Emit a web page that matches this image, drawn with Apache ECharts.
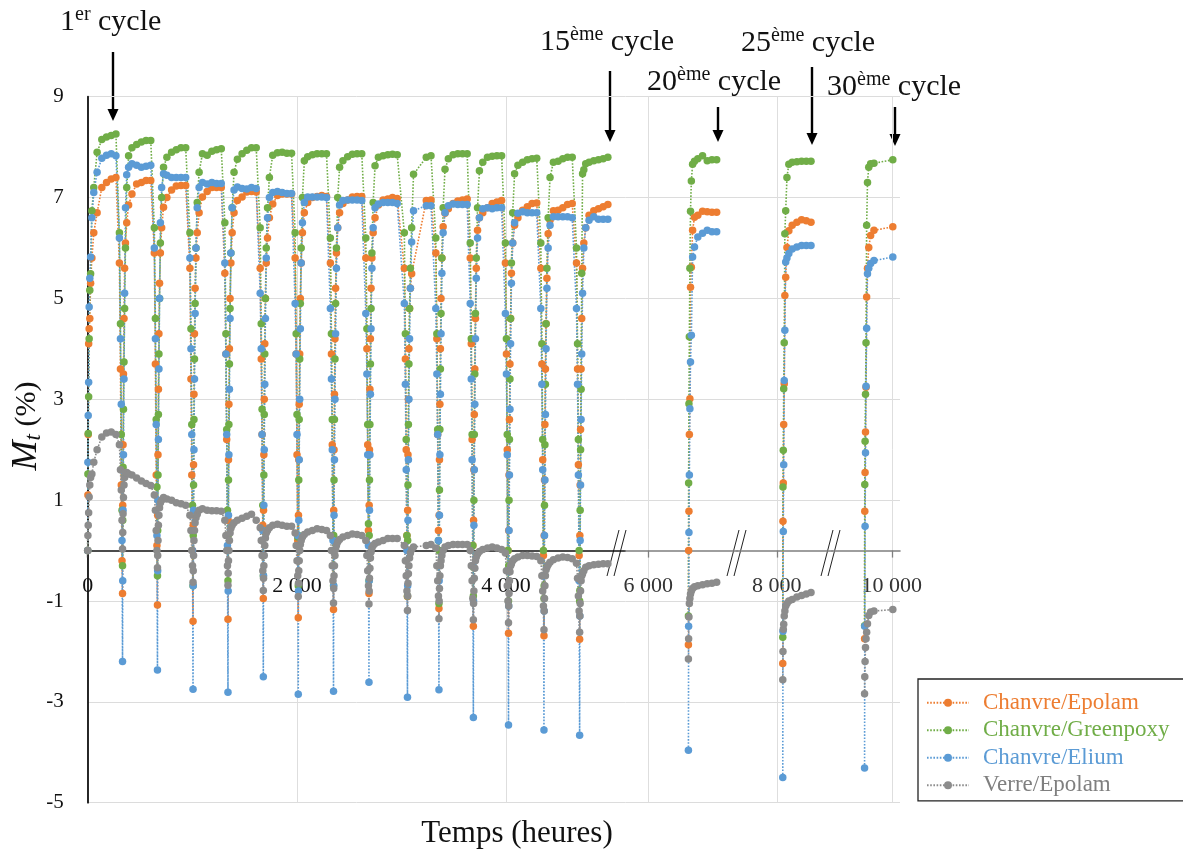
<!DOCTYPE html>
<html><head><meta charset="utf-8">
<script src="https://cdn.jsdelivr.net/npm/echarts@6/dist/echarts.min.js"></script>
<style>html,body{margin:0;padding:0;background:#fff}#chart{width:1183px;height:852px}</style>
</head><body><div id="chart"></div>
<script>
// ---------------- DATA ----------------
const cycleNumbers = [1,2,3,4,5,6,7,8,9,10,11,12,13,14,15,20,25,30];
const cycleTimes   = [0,333,667,1007,1341,1679,2013,2350,2689,3057,3358,3687,4023,4362,4703,6383,8057,9740]; // hours (time of minimum)
const cycleSegment = [0,0,0,0,0,0,0,0,0,0,0,0,0,0,0,1,2,3];  // which broken-axis segment
const dropOffsets  = [-30,-20,-12,-5,0];                    // hours, desorption points then minimum
const riseOffsets  = [2,5,9,14,20,28,40,58,90,135,180,225,270]; // hours, absorption points
const segMin   = [0,5780,7620,9429];
const segMax   = [5140,6848,8528,10079];
const segTicks = [[0,2000,4000],[6000],[8000],[10000]];
const yTicksMin = -5, yTicksMax = 9, yTickStep = 2;

// each row: [d1,d2,d3,d4,min, r1..r13] for one cycle
const chanvreEpolam = [
 [null,null,null,null,0, 1.1,2.3,4.1,4.4,4.6,5.3,5.8,6.3,6.7,7.2,7.3,7.37,7.4],
 [5.7,3.6,1.3,-0.2,-0.85, 0.9,2.1,3.5,4.6,5.6,6.1,6.5,6.85,7.07,7.27,7.3,7.34,7.34],
 [5.9,3.7,1.5,0.1,-1.08, 0.7,1.9,3.2,4.3,5.3,5.9,6.4,6.81,7.0,7.15,7.23,7.24,7.24],
 [5.6,3.4,1.5,0.0,-1.4, 0.5,1.7,3.1,4.3,5.2,5.8,6.3,6.7,7.01,7.12,7.2,7.2,7.2],
 [5.5,3.9,2.2,0.3,-1.36, 0.6,1.8,2.9,4.0,5.0,5.7,6.3,6.7,6.94,7.01,7.11,7.12,7.11],
 [5.6,3.8,2.3,0.5,-0.95, 0.8,1.9,3.0,4.1,5.0,5.7,6.2,6.6,6.87,7.04,7.07,7.07,7.07],
 [5.8,3.9,1.9,0.2,-1.33, 0.7,1.8,2.9,3.9,5.0,5.7,6.3,6.7,6.9,7.0,7.02,7.04,7.02],
 [5.7,3.9,2.1,0.3,-1.17, 0.8,2.0,3.1,4.2,5.2,5.9,6.4,6.7,6.88,6.95,7.01,7.02,7.02],
 [5.8,4.0,2.1,0.4,-0.85, 0.9,2.0,3.2,4.2,5.2,5.8,6.3,6.6,6.85,6.95,6.97,7.0,6.98],
 [5.6,3.8,2.0,0.3,-0.91, 0.8,1.9,3.0,4.0,4.8,5.2,5.49,null,null,null,6.94,6.95,null],
 [5.9,4.2,2.3,0.4,-1.15, 0.7,1.8,2.9,4.0,5.0,5.8,6.42,6.69,6.78,6.88,6.93,6.95,6.97],
 [5.8,4.1,2.2,0.1,-1.5, 0.6,1.6,2.7,3.6,4.6,5.6,6.35,6.6,6.7,6.8,6.88,6.91,6.94],
 [5.7,3.9,2.0,0.0,-1.64, 0.4,1.5,2.6,3.7,4.6,5.5,6.1,6.45,6.6,6.75,6.82,6.88,6.89],
 [5.6,3.7,1.8,-0.1,-1.69, 0.3,1.4,2.5,3.6,4.5,5.4,6.28,6.55,6.74,6.75,6.8,6.86,6.88],
 [5.7,3.6,1.7,-0.1,-1.76, 0.3,1.3,2.4,3.6,4.6,5.6,6.1,6.4,6.65,6.74,6.78,6.82,6.86],
 [null,null,null,null,-1.87, 0.0,0.78,2.3,3.01,5.22,5.62,6.35,6.61,6.65,6.73,6.72,6.71,6.71],
 [null,null,null,null,-2.24, 0.58,1.34,2.5,3.31,5.06,5.42,6.01,6.34,6.45,6.51,6.56,6.54,6.51],
 [null,null,null,null,-1.75, 0.78,1.55,2.35,3.24,5.03,5.6,6.01,6.25,6.35,null,null,null,6.42]
];
const chanvreGreenpoxy = [
 [null,null,null,null,0, 1.52,2.32,3.05,4.2,5.16,5.49,6.74,7.2,7.9,8.15,8.2,8.23,8.26],
 [6.3,4.5,2.3,0.8,-0.3, 0.6,1.65,2.8,3.74,4.8,6.0,7.2,7.83,7.99,8.05,8.1,8.13,8.13],
 [6.4,4.6,2.6,1.26,-0.5, 0.4,1.5,2.7,3.9,5.0,6.1,7.0,7.6,7.8,7.9,7.95,7.99,7.99],
 [6.3,4.4,2.5,0.9,-0.7, 0.3,1.3,2.6,3.8,4.9,6.0,6.9,7.5,7.87,7.84,7.92,7.95,7.97],
 [6.5,4.3,2.4,0.8,-0.6, 0.3,1.4,2.5,3.7,4.8,5.9,6.8,7.5,7.76,7.87,7.94,7.99,7.99],
 [6.4,4.5,2.8,0.9,-0.5, 0.4,1.5,2.7,3.9,5.0,6.0,6.8,7.4,7.84,7.89,7.9,7.88,7.88],
 [6.3,4.3,2.7,0.27,-0.7, 0.3,1.4,2.6,3.8,4.9,6.0,7.0,7.73,7.81,7.85,7.87,7.87,7.87],
 [6.2,4.3,2.6,0.27,-0.7, 0.3,1.4,2.6,3.8,4.9,6.0,7.0,7.6,7.73,7.81,7.86,7.87,7.87],
 [6.2,4.4,2.5,0.53,-0.6, 0.3,1.4,2.5,3.7,4.8,5.9,6.9,7.63,7.8,7.83,7.85,7.86,7.85],
 [6.3,4.3,2.2,0.3,-0.9, 0.2,1.3,2.5,3.7,4.8,5.6,6.4,7.46,null,null,7.8,7.83,null],
 [6.2,4.3,2.4,0.2,-1.05, 0.0,1.2,2.4,3.6,4.7,5.8,6.8,7.56,7.77,7.85,7.87,7.87,7.87],
 [6.1,4.2,2.3,0.1,-0.9, -0.33,1.0,2.3,3.5,4.7,5.8,6.8,7.53,7.7,7.8,7.82,7.83,7.83],
 [6.1,4.2,2.3,0.0,-1.0, -0.3,1.0,2.2,3.4,4.6,5.7,6.7,7.47,7.64,7.7,7.75,7.77,7.78],
 [6.1,4.1,2.2,0.0,-0.95, -0.7,0.9,2.1,3.3,4.5,5.6,6.6,7.4,7.7,7.72,7.77,7.8,7.8],
 [6.0,4.1,2.2,0.0,-1.0, -0.79,0.8,2.0,3.2,5.5,7.47,7.55,7.67,7.7,7.73,7.75,7.77,7.8],
 [null,null,null,null,-1.3, 1.34,2.91,4.24,5.6,6.73,7.33,7.66,7.72,7.77,7.83,7.73,7.75,7.75],
 [null,null,null,null,-1.72, 1.26,1.99,3.21,4.12,6.28,6.74,7.4,7.66,7.7,7.71,7.72,7.72,7.72],
 [null,null,null,null,-1.49, 1.31,2.17,3.1,4.12,6.45,7.3,7.6,7.67,7.68,null,null,null,7.75]
];
const chanvreElium = [
 [null,null,null,null,0, 1.75,2.68,3.34,4.83,5.4,5.82,6.6,7.1,7.5,7.78,7.84,7.87,7.83],
 [6.2,4.2,2.9,0.2,-2.2, -0.6,0.8,1.9,3.4,5.1,6.8,7.45,7.6,7.67,7.64,7.6,7.62,7.64],
 [6.0,4.2,2.5,0.3,-2.37, -0.4,1.0,2.2,3.6,5.0,6.5,7.2,7.47,7.44,7.4,7.4,7.4,7.4],
 [5.8,4.0,2.3,0.0,-2.75, -0.7,0.8,2.0,3.4,4.7,6.0,6.8,7.2,7.3,7.27,7.3,7.28,7.28],
 [5.7,3.9,2.3,0.1,-2.81, -0.8,0.7,1.9,3.2,4.6,5.9,6.8,7.15,7.21,7.18,7.17,7.2,7.18],
 [5.1,4.0,2.3,0.4,-2.5, -0.5,0.9,2.0,3.3,4.6,5.8,6.6,7.0,7.1,7.12,7.1,7.08,7.08],
 [4.9,3.9,2.3,0.3,-2.85, -0.8,0.6,1.8,3.0,4.4,5.7,6.5,6.9,7.01,7.01,7.01,7.01,7.0],
 [4.8,3.4,2.0,0.2,-2.79, -0.7,0.7,1.8,3.0,4.3,5.6,6.4,6.85,6.94,6.95,6.95,6.95,6.94],
 [4.7,3.5,1.9,0.1,-2.61, -0.6,0.8,1.9,3.1,4.4,5.6,6.4,6.8,6.87,6.9,6.9,6.9,6.88],
 [4.9,3.3,1.6,0.0,-2.91, -0.7,0.6,1.8,3.0,4.2,5.2,6.12,6.74,null,null,6.84,6.84,null],
 [4.8,3.5,2.3,0.2,-2.76, -0.6,0.7,1.9,3.1,4.3,5.5,6.3,6.7,6.84,6.87,6.86,6.86,6.86],
 [4.9,3.4,1.8,-0.3,-3.31, -1.0,0.5,1.6,2.9,4.2,5.4,6.2,6.6,6.78,6.8,6.78,6.8,6.8],
 [4.7,3.5,1.9,-0.4,-3.46, -1.1,0.4,1.5,2.8,4.1,5.3,6.1,6.5,6.69,6.72,6.7,6.7,6.7],
 [4.8,3.3,1.6,-0.5,-3.56, -1.2,0.3,1.4,2.7,4.0,5.2,6.0,6.45,6.62,6.62,6.62,6.62,6.6],
 [4.8,3.3,1.5,-0.6,-3.66, -1.3,0.2,1.3,2.6,3.9,5.1,6.0,6.4,6.55,6.62,6.57,6.57,6.57],
 [null,null,null,null,-3.96, -1.5,0.36,1.5,2.81,3.74,4.27,5.82,6.02,6.22,6.29,6.35,6.32,6.32],
 [null,null,null,null,-4.5, -1.6,0.38,1.7,3.37,4.37,5.72,5.8,5.89,5.98,6.02,6.05,6.05,6.05],
 [null,null,null,null,-4.31, -1.5,0.48,1.94,3.26,4.41,5.49,5.6,5.69,5.75,null,null,null,5.82]
];
const verreEpolam = [
 [null,null,null,null,0, 0.3,0.5,0.75,1.06,1.3,1.45,1.52,1.75,2.0,2.25,2.33,2.35,2.3],
 [2.1,1.6,1.2,0.6,0.03, 0.36,0.73,1.05,1.3,1.45,1.55,1.55,1.52,1.5,1.44,1.38,1.33,1.29],
 [1.1,0.8,0.4,0.0,-0.34, -0.1,0.2,0.5,0.7,0.85,0.95,1.0,1.05,1.02,1.0,0.95,0.93,0.9],
 [0.7,0.4,0.0,-0.3,-0.63, -0.4,-0.1,0.2,0.4,0.55,0.65,0.72,0.8,0.83,0.8,0.79,0.79,0.78],
 [0.6,0.3,0.0,-0.3,-0.69, -0.45,-0.2,0.0,0.2,0.35,0.44,0.5,0.55,0.6,0.64,0.68,0.72,0.6],
 [0.45,0.2,-0.1,-0.4,-0.79, -0.55,-0.3,-0.1,0.1,0.25,0.35,0.4,0.45,0.5,0.52,0.5,0.48,0.48],
 [0.35,0.1,-0.2,-0.5,-0.91, -0.65,-0.4,-0.2,0.0,0.12,0.2,0.27,0.32,0.37,0.4,0.43,0.42,0.4],
 [0.3,0.0,-0.3,-0.6,-1.04, -0.75,-0.5,-0.3,-0.1,0.02,0.1,0.17,0.22,0.27,0.3,0.33,0.32,0.3],
 [0.2,-0.1,-0.4,-0.7,-1.06, -0.8,-0.55,-0.35,-0.15,-0.03,0.05,0.1,0.14,0.17,0.2,0.24,0.24,0.24],
 [0.1,-0.2,-0.5,-0.8,-1.19, -0.9,-0.65,-0.46,-0.3,-0.15,-0.05,0.02,0.07,null,null,0.1,0.12,null],
 [0.05,-0.3,-0.6,-0.9,-1.35, -1.0,-0.75,-0.5,-0.3,-0.2,-0.1,0.0,0.07,0.1,0.12,0.12,0.12,0.12],
 [0.0,-0.3,-0.6,-0.95,-1.37, -1.05,-0.8,-0.55,-0.35,-0.2,-0.13,-0.07,-0.02,0.02,0.05,0.07,0.05,0.02],
 [-0.05,-0.4,-0.7,-1.0,-1.43, -1.1,-0.85,-0.6,-0.42,-0.3,-0.26,-0.2,-0.16,-0.13,-0.1,-0.1,-0.11,-0.12],
 [-0.2,-0.5,-0.8,-1.1,-1.57, -1.2,-0.95,-0.7,-0.5,-0.38,-0.33,-0.28,-0.23,-0.18,-0.15,-0.13,-0.14,-0.16],
 [-0.25,-0.55,-0.9,-1.2,-1.62, -1.3,-1.05,-0.8,-0.6,-0.5,-0.46,-0.4,-0.33,-0.3,-0.28,-0.27,-0.26,-0.26],
 [null,null,null,null,-2.15, -1.75,-1.32,-1.05,-0.95,-0.86,-0.8,-0.75,-0.72,-0.7,-0.68,-0.66,-0.65,-0.63],
 [null,null,null,null,-2.56, -2.0,-1.56,-1.46,-1.3,-1.2,-1.1,-1.05,-1.0,-0.97,-0.92,-0.89,-0.86,-0.83],
 [null,null,null,null,-2.84, -2.5,-2.2,-1.92,-1.75,-1.62,-1.45,-1.29,-1.22,-1.2,null,null,null,-1.17]
];
const seriesNames  = ['Chanvre/Epolam','Chanvre/Greenpoxy','Chanvre/Elium','Verre/Epolam'];

// ---------------- LAYOUT / STYLE ----------------
const FONT = "'Liberation Serif','Times New Roman',serif";
const COLORS = ['#ED7D31','#70AD47','#5B9BD5','#8C8C8C'];
const LEGEND_TEXT = ['#ED7D31','#70AD47','#5B9BD5','#7F7F7F'];
const PX_PER_HOUR = 0.1046;
const PLOT_LEFT = 87.7, PLOT_TOP = 96.7, PLOT_H = 706;
// distance (px) from the bottom of the plot up to the y = 0 line
const ZERO_OFFSET = (0 - yTicksMin) / (yTicksMax - yTicksMin) * PLOT_H;

const offsets = dropOffsets.concat(riseOffsets);
function buildData(rows, seg) {
  const out = [];
  rows.forEach((row, k) => {
    if (cycleSegment[k] !== seg) return;
    row.forEach((v, i) => { if (v !== null) out.push([cycleTimes[k] + offsets[i], v]); });
  });
  return out;
}
const allRows = [chanvreEpolam, chanvreGreenpoxy, chanvreElium, verreEpolam];

const grids = [], xAxes = [], yAxes = [];
let left = PLOT_LEFT;
const fmt = v => String(v).replace(/\B(?=(\d{3})+(?!\d))/g, ' ');
for (let g = 0; g < 4; g++) {
  const w = (segMax[g] - segMin[g]) * PX_PER_HOUR;
  grids.push({left: left, top: PLOT_TOP, width: w, height: PLOT_H, outerBoundsMode: 'none', containLabel: false});
  left += w;
  xAxes.push({
    type: 'value', gridIndex: g, min: segMin[g], max: segMax[g],
    position: 'bottom', offset: -ZERO_OFFSET,
    axisLine: {onZero: false, lineStyle: {color: g === 0 ? '#111' : '#7f7f7f', width: 1.6}},
    axisTick: {show: true, customValues: segTicks[g], length: 7, lineStyle: {color: g === 0 ? '#333' : '#7f7f7f', width: 1.3}},
    axisLabel: {customValues: segTicks[g], formatter: fmt, margin: 25, fontFamily: FONT, fontSize: 22, color: g === 0 ? '#111' : '#333'},
    splitLine: {show: true, lineStyle: {color: '#dedede', width: 1}}
  });
  yAxes.push({
    type: 'value', gridIndex: g, min: yTicksMin, max: yTicksMax, interval: yTickStep,
    axisLine: {show: g === 0, onZero: false, lineStyle: {color: '#111', width: 1.8}},
    axisTick: {show: false},
    axisLabel: {show: g === 0, margin: 24, fontFamily: FONT, fontSize: 21, color: '#111'},
    splitLine: {show: true, lineStyle: {color: '#dcdcdc', width: 1}}
  });
}

const series = [];
seriesNames.forEach((name, m) => {
  for (let g = 0; g < 4; g++) {
    series.push({
      type: 'line', name: name, xAxisIndex: g, yAxisIndex: g,
      data: buildData(allRows[m], g),
      symbol: 'circle', symbolSize: 7.5, showSymbol: true,
      lineStyle: {color: COLORS[m], width: 1.6, type: [1.6, 1.6]},
      itemStyle: {color: COLORS[m]},
      emphasis: {disabled: true}, silent: true
    });
  }
});

// annotations (decorations)
function arrow(x, yTop, yTip) {
  return {type: 'group', children: [
    {type: 'line', shape: {x1: x, y1: yTop, x2: x, y2: yTip - 8}, style: {stroke: '#000', lineWidth: 2.4}},
    {type: 'polygon', shape: {points: [[x - 5.5, yTip - 12], [x + 5.5, yTip - 12], [x, yTip]]}, style: {fill: '#000'}}
  ]};
}
function cycleLabel(x, top, num, sup) {
  return {type: 'text', x: x, y: top, style: {
    text: '{n|' + num + '}{s|' + sup + '}{n| cycle}', verticalAlign: 'top', align: 'left',
    rich: {n: {fontFamily: FONT, fontSize: 30, lineHeight: 34, fill: '#111'},
           s: {fontFamily: FONT, fontSize: 20, lineHeight: 24, verticalAlign: 'top', fill: '#111'}}
  }};
}
function breakMark(xLow) {
  return {type: 'group', children: [
    {type: 'rect', shape: {x: xLow + 5, y: 547, width: 8, height: 7}, style: {fill: '#fff'}},
    {type: 'line', shape: {x1: xLow, y1: 576, x2: xLow + 12, y2: 530}, style: {stroke: '#222', lineWidth: 1}},
    {type: 'line', shape: {x1: xLow + 7, y1: 576, x2: xLow + 19, y2: 530}, style: {stroke: '#222', lineWidth: 1}}
  ]};
}

const graphic = [
  cycleLabel(60, 5, '1', 'er'),
  cycleLabel(540, 25, '15', 'ème'),
  cycleLabel(647, 65, '20', 'ème'),
  cycleLabel(741, 26, '25', 'ème'),
  cycleLabel(827, 70, '30', 'ème'),
  arrow(113, 52, 121), arrow(610, 71, 142), arrow(718, 107, 142), arrow(812, 67, 145), arrow(895, 107, 146),
  breakMark(607), breakMark(727), breakMark(821),
  {type: 'text', x: 27, y: 426, rotation: Math.PI / 2, style: {
    text: '{m|M}{t|t}{p| (%)}', align: 'center', verticalAlign: 'middle',
    rich: {m: {fontFamily: FONT, fontStyle: 'italic', fontSize: 36, lineHeight: 36, fill: '#111'},
           t: {fontFamily: FONT, fontStyle: 'italic', fontSize: 23, lineHeight: 17, verticalAlign: 'bottom', fill: '#111'},
           p: {fontFamily: FONT, fontSize: 30, lineHeight: 36, fill: '#111'}}
  }},
  {type: 'text', x: 517, y: 834, style: {text: 'Temps (heures)', fontFamily: FONT, fontSize: 31, fill: '#111', align: 'center', verticalAlign: 'middle'}}
];

const chart = echarts.init(document.getElementById('chart'));
chart.setOption({
  animation: false,
  backgroundColor: '#fff',
  textStyle: {fontFamily: FONT},
  grid: grids, xAxis: xAxes, yAxis: yAxes,
  legend: {
    left: 918, top: 679, orient: 'vertical', selectedMode: false,
    itemWidth: 42, itemHeight: 10, itemGap: 4.5,
    padding: [12.2, 30, 4.2, 8], borderColor: '#222', borderWidth: 1.3, backgroundColor: '#fff',
    textStyle: {fontFamily: FONT, fontSize: 23, lineHeight: 23, padding: [0, 0, 0, 9]},
    data: seriesNames.map((n, i) => ({name: n, textStyle: {color: LEGEND_TEXT[i]}}))
  },
  graphic: graphic,
  series: series
});
</script>
</body></html>
